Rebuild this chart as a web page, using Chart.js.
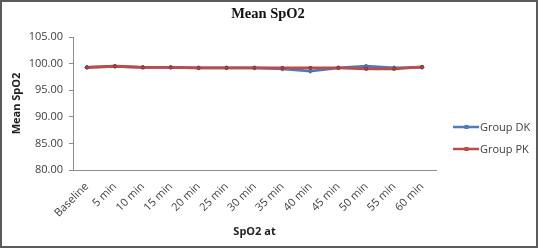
<!DOCTYPE html>
<html lang="en">
<head>
  <meta charset="UTF-8" />
  <title>Mean SpO2</title>
  <script src="https://cdn.jsdelivr.net/npm/chart.js"></script>
  <style>
    html, body { margin: 0; padding: 0; background: #fff; }
    #wrap { position: relative; width: 538px; height: 248px; }
  </style>
</head>
<body>
<div id="wrap"><canvas id="spo2Chart" width="538" height="248"></canvas></div>
<script>
  // chart data
  const timeLabels = ['Baseline', '5 min', '10 min', '15 min', '20 min', '25 min', '30 min',
                      '35 min', '40 min', '45 min', '50 min', '55 min', '60 min'];
  const groupDK = [99.3, 99.5, 99.3, 99.3, 99.2, 99.2, 99.2, 99.0, 98.6, 99.2, 99.5, 99.2, 99.3];
  const groupPK = [99.3, 99.5, 99.3, 99.3, 99.2, 99.2, 99.2, 99.2, 99.2, 99.2, 99.0, 99.0, 99.4];
  const yTicks = [80, 85, 90, 95, 100, 105];

  const BLUE = '#4a7ebb';
  const RED = '#be4b48';
  const TEXT = '#404040';

  // border, title and legend drawn by hand so the plot sits where Excel put it
  const decor = {
    id: 'decor',
    beforeDraw(chart) {
      const ctx = chart.ctx;
      ctx.save();
      ctx.fillStyle = '#fff';
      ctx.fillRect(0, 0, chart.width, chart.height);
      ctx.restore();
    },
    afterDraw(chart) {
      const ctx = chart.ctx;
      ctx.save();
      ctx.strokeStyle = '#5a5a5a';
      ctx.lineWidth = 2;
      ctx.strokeRect(1, 1, chart.width - 2, chart.height - 2);

      ctx.fillStyle = '#111';
      ctx.font = 'bold 14.5px "Liberation Serif", serif';
      ctx.textAlign = 'center';
      ctx.textBaseline = 'middle';
      ctx.fillText('Mean SpO2', 268, 14);

      const items = [
        { text: 'Group DK', color: BLUE, y: 127 },
        { text: 'Group PK', color: RED, y: 149 }
      ];
      ctx.font = '11px "Open Sans", sans-serif';
      ctx.textAlign = 'left';
      items.forEach(it => {
        ctx.strokeStyle = it.color;
        ctx.lineWidth = 2.5;
        ctx.beginPath();
        ctx.moveTo(453, it.y);
        ctx.lineTo(479, it.y);
        ctx.stroke();
        ctx.fillStyle = it.color;
        ctx.fillRect(464.5, it.y - 2, 4, 4);
        ctx.fillStyle = TEXT;
        ctx.fillText(it.text, 480, it.y + 1);
      });
      ctx.restore();
    }
  };

  new Chart(document.getElementById('spo2Chart'), {
    type: 'line',
    data: {
      labels: timeLabels,
      datasets: [
        {
          label: 'Group DK',
          data: groupDK,
          borderColor: BLUE,
          backgroundColor: BLUE,
          borderWidth: 2.8,
          pointStyle: 'rectRot',
          pointRadius: 2.2,
          pointBorderWidth: 1,
          pointBorderColor: '#3a659a',
          tension: 0,
          order: 1
        },
        {
          label: 'Group PK',
          data: groupPK,
          borderColor: RED,
          backgroundColor: RED,
          borderWidth: 2.8,
          pointStyle: 'rect',
          pointRadius: 1.8,
          pointBorderWidth: 1,
          pointBorderColor: '#8f3532',
          tension: 0,
          order: 0
        }
      ]
    },
    options: {
      responsive: false,
      animation: false,
      layout: { padding: { top: 37, right: 102, left: 4, bottom: 0 } },
      plugins: {
        legend: { display: false },
        title: { display: false },
        tooltip: { enabled: false }
      },
      scales: {
        x: {
          offset: true,
          grid: { display: false },
          border: { display: true, color: '#8c8c8c', width: 1 },
          ticks: {
            autoSkip: false,
            maxRotation: 45,
            minRotation: 45,
            padding: 2,
            color: TEXT,
            font: { family: '"Open Sans", sans-serif', size: 11 }
          },
          title: {
            display: true,
            text: 'SpO2 at',
            color: '#222',
            font: { family: '"Open Sans", sans-serif', size: 11, weight: 'bold' },
            padding: { top: 0, bottom: 10 }
          },
          afterFit(scale) { scale.height = 78; }
        },
        y: {
          min: 80,
          max: 105,
          afterBuildTicks(scale) { scale.ticks = yTicks.map(v => ({ value: v })); },
          grid: {
            drawOnChartArea: false,
            drawTicks: true,
            tickLength: 4,
            color: '#8c8c8c'
          },
          border: { display: true, color: '#8c8c8c', width: 1 },
          ticks: {
            padding: 6,
            color: TEXT,
            font: { family: '"Open Sans", sans-serif', size: 11 },
            callback: v => Number(v).toFixed(2)
          },
          title: {
            display: true,
            text: 'Mean SpO2',
            color: '#222',
            font: { family: '"Open Sans", sans-serif', size: 11, weight: 'bold' },
            padding: { top: 6, bottom: 0 }
          },
          afterFit(scale) { scale.width = 69; }
        }
      }
    },
    plugins: [decor]
  });
</script>
</body>
</html>
